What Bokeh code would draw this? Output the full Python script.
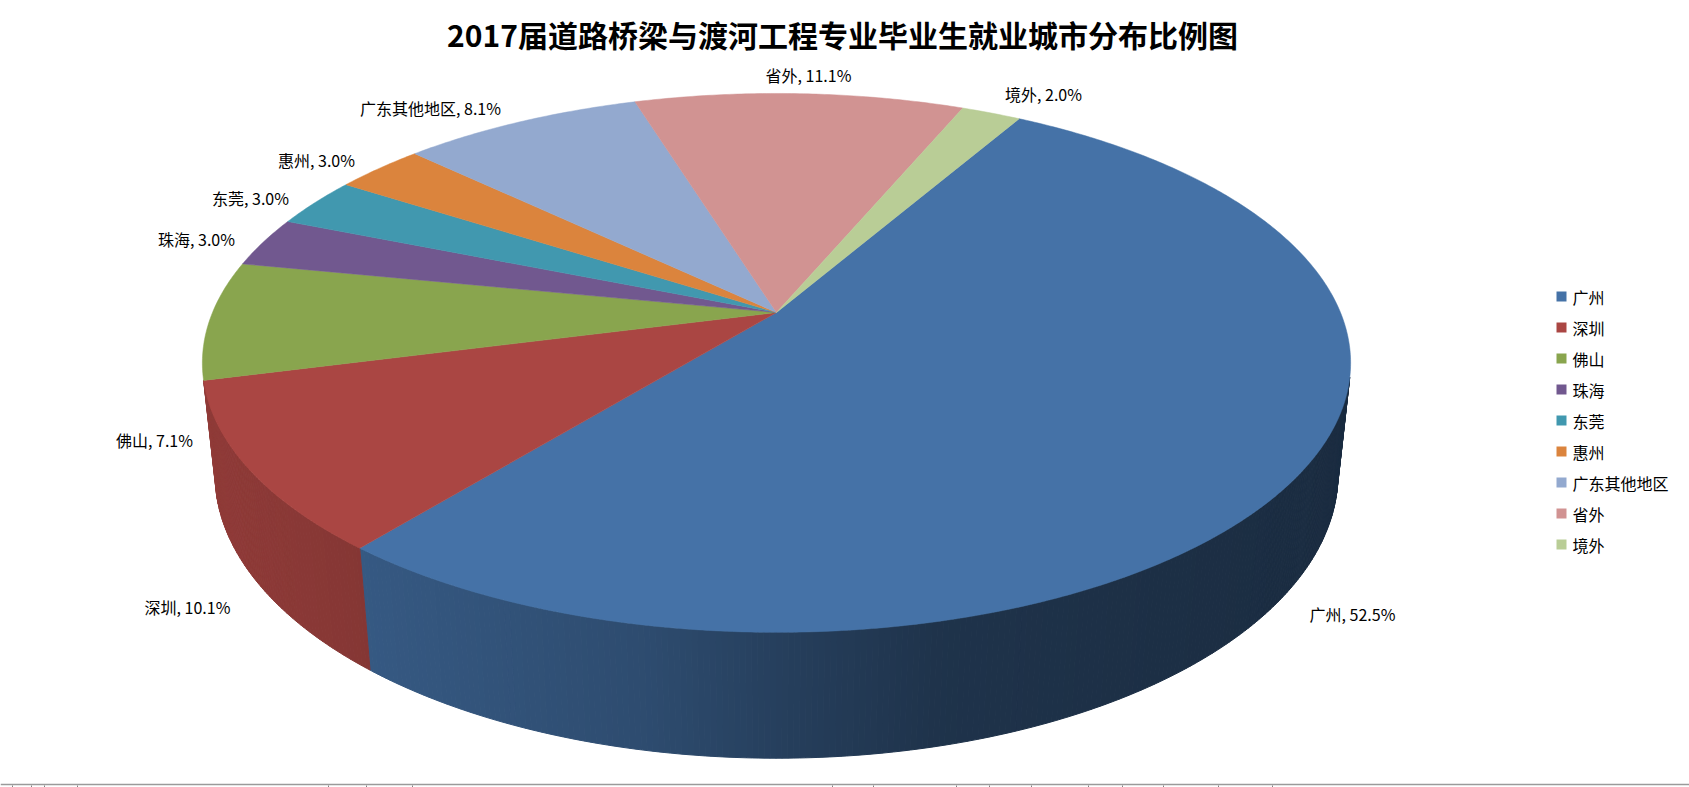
import math
import numpy as np
from bokeh.plotting import figure
from bokeh.models import Range1d
from bokeh.core.properties import value
from bokeh.embed import file_html
from bokeh.resources import INLINE

# ---- data ----
title = "2017届道路桥梁与渡河工程专业毕业生就业城市分布比例图"
cities = ["广州", "深圳", "佛山", "珠海", "东莞", "惠州", "广东其他地区", "省外", "境外"]
pcts = [52.5, 10.1, 7.1, 3.0, 3.0, 3.0, 8.1, 11.1, 2.0]
colors = ["#4572A7", "#AA4643", "#89A54E", "#71588F", "#4198AF",
          "#DB843D", "#93A9CF", "#D19392", "#B9CD96"]
# label centre positions (screen px)
label_pos = [(1352, 613), (187, 606), (154, 439), (196, 238), (250, 197),
             (316, 159), (430, 107), (808, 74), (1043, 93)]

W, H = 1689, 787
p = figure(width=W, height=H, output_backend="svg", toolbar_location=None,
           x_range=Range1d(0, W), y_range=Range1d(H, 0),
           min_border=0, background_fill_color="white", border_fill_color="white")
p.axis.visible = False
p.grid.visible = False
p.outline_line_color = None

# ---- 3D perspective projection ----
X0, Y0 = 776.0, 312.0
s, c = 0.461, 0.887
D = 4.743
F = 2675.0
T = 0.224
start_angle = 30.0

def proj(theta_deg, z):
    th = math.radians(theta_deg)
    u, v = math.sin(th), math.cos(th)
    d = D + v * c - z * s
    return X0 + F * u / d, Y0 - F * (v * s + z * c) / d

def hex2rgb(h):
    h = h.lstrip("#")
    return tuple(int(h[i:i + 2], 16) for i in (0, 2, 4))

def shade(col, x):
    fx = [200, 370, 640, 790, 940, 1350]
    ff = [0.85, 0.78, 0.67, 0.55, 0.45, 0.39]
    f = float(np.interp(x, fx, ff))
    r, g, b = hex2rgb(col)
    return "#%02x%02x%02x" % (int(r * f), int(g * f), int(b * f))

total = sum(pcts)
bounds = []
a = start_angle
for v in pcts:
    span = v / total * 360.0
    bounds.append((a, a + span))
    a += span

# side walls (visible where v < -1/(D c))
vis_lo = math.degrees(math.acos(-1.0 / (D * c)))
vis_hi = 360 - vis_lo
sx, sy, sc = [], [], []
for (a0, a1), col in zip(bounds, colors):
    lo, hi = max(a0, vis_lo), min(a1, vis_hi)
    if hi - lo < 1.0:
        continue
    n = max(2, int((hi - lo) / 0.5))
    angs = np.linspace(lo, hi, n + 1)
    for t0, t1 in zip(angs[:-1], angs[1:]):
        p1 = proj(t0, 0); p2 = proj(t1, 0)
        p3 = proj(t1, -T); p4 = proj(t0, -T)
        sx.append([p1[0], p2[0], p3[0], p4[0]])
        sy.append([p1[1], p2[1], p3[1], p4[1]])
        sc.append(shade(col, (p1[0] + p2[0]) / 2))
p.patches(sx, sy, fill_color=sc, line_color=sc, line_width=1)

# top face slices
tx, ty = [], []
for (a0, a1) in bounds:
    n = max(4, int((a1 - a0) / 0.5))
    angs = np.linspace(a0, a1, n + 1)
    pts = [proj(t, 0) for t in angs]
    tx.append([X0] + [q[0] for q in pts])
    ty.append([Y0] + [q[1] for q in pts])
p.patches(tx, ty, fill_color=colors, line_color=colors, line_width=0.5)

font = value("Noto Sans CJK SC")

# data labels
labels = [f"{cty}, {v:.1f}%" for cty, v in zip(cities, pcts)]
p.text(x=[q[0] for q in label_pos], y=[q[1] for q in label_pos], text=labels,
       text_align="center", text_baseline="middle", text_font=font,
       text_font_size="16px", text_color="black")

# title
p.text(x=[842], y=[33], text=[title], text_align="center", text_baseline="middle",
       text_font=font, text_font_size="30px", text_font_style="bold", text_color="black")

# legend
ly = [296 + 31 * i for i in range(len(cities))]
p.scatter(x=[1561] * len(cities), y=ly, marker="square", size=10,
          fill_color=colors, line_color=None)
p.text(x=[1572] * len(cities), y=ly, text=cities, text_align="left",
       text_baseline="middle", text_font=font, text_font_size="16px", text_color="black")

# sheet edge line at bottom with column ticks
p.segment(x0=[0], y0=[784], x1=[W], y1=[784], line_color="#9a9a9a", line_width=1.5)
tick_x = [12, 31, 44, 77, 328, 366, 412, 832, 873, 956, 989, 1031, 1088, 1122, 1163, 1218, 1272]
p.segment(x0=tick_x, y0=[785] * len(tick_x), x1=tick_x, y1=[787] * len(tick_x),
          line_color="#808080", line_width=1)

open("out.html", "w").write(file_html(p, INLINE))
